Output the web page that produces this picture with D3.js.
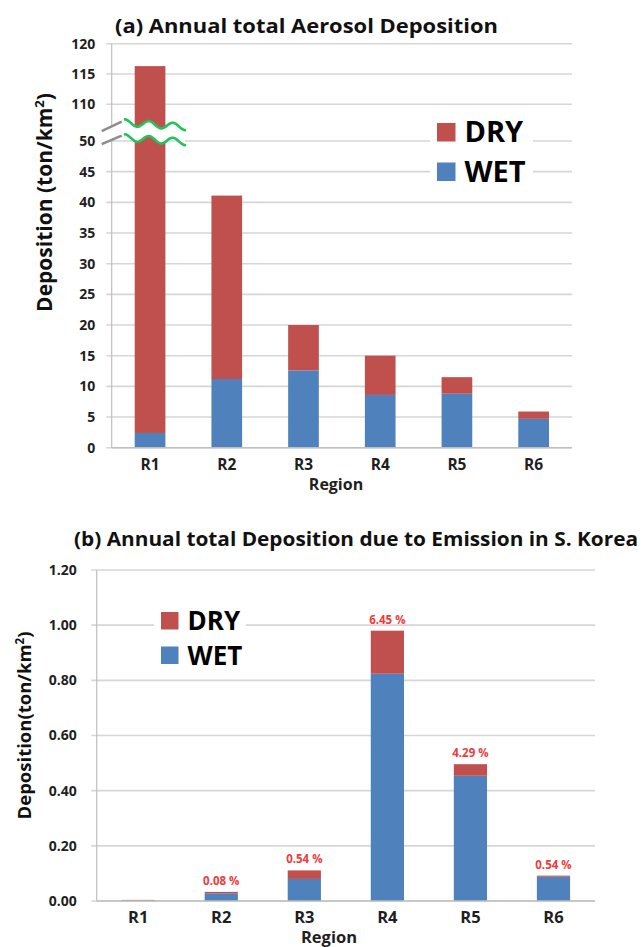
<!DOCTYPE html>
<html>
<head>
<meta charset="utf-8">
<script src="https://cdn.jsdelivr.net/npm/d3@7/dist/d3.min.js"></script>
<style>
  body { margin: 0; background: #fff; }
  svg text { font-family: "Open Sans", "Noto Sans", sans-serif; font-weight: bold; }
</style>
</head>
<body>
<svg id="chart" width="642" height="947"></svg>
<script>
// ---- data ----
const regions = ["R1", "R2", "R3", "R4", "R5", "R6"];

// (a) annual total aerosol deposition, ton/km2
const totalWet = [2.4, 11.2, 12.6, 8.6, 8.8, 4.7];
const totalDry = [113.9, 29.9, 7.4, 6.4, 2.7, 1.2];
const totalTicks = [0, 5, 10, 15, 20, 25, 30, 35, 40, 45, 50, 110, 115, 120];

// (b) deposition due to emission in S. Korea, ton/km2
const koreaWet = [0.001, 0.028, 0.080, 0.824, 0.454, 0.088];
const koreaDry = [0.003, 0.005, 0.031, 0.156, 0.042, 0.004];
const koreaShare = ["", "0.08 %", "0.54 %", "6.45 %", "4.29 %", "0.54 %"];
const koreaTicks = [0, 0.2, 0.4, 0.6, 0.8, 1.0, 1.2];

const seriesKeys = ["WET", "DRY"];
const colors = { DRY: "#C0504D", WET: "#4F81BD" };
const gridColor = "#D6D6D6";
const axisColor = "#BFBFBF";

const svg = d3.select("#chart");

function stackRows(wet, dry) {
  const rows = regions.map((r, i) => ({ region: r, WET: wet[i], DRY: dry[i] }));
  return { rows, layers: d3.stack().keys(seriesKeys)(rows) };
}

function drawPanel(opt) {
  const g = svg.append("g");
  const { rows, layers } = stackRows(opt.wet, opt.dry);
  const x = d3.scaleBand().domain(regions)
    .range([opt.left, opt.right]).paddingInner(0.6).paddingOuter(0.3);
  const y = opt.y;

  // gridlines with short outside ticks
  g.append("g").selectAll("line").data(opt.ticks).join("line")
    .attr("x1", opt.left - 5.5).attr("x2", opt.right)
    .attr("y1", d => y(d)).attr("y2", d => y(d))
    .attr("stroke", gridColor).attr("stroke-width", 1.6);

  // value axis line
  g.append("line")
    .attr("x1", opt.left).attr("x2", opt.left)
    .attr("y1", y(opt.ticks[opt.ticks.length - 1])).attr("y2", y(0))
    .attr("stroke", axisColor).attr("stroke-width", 1.2);

  // stacked bars
  g.append("g").selectAll("g").data(layers).join("g")
    .attr("fill", d => colors[d.key])
    .selectAll("rect").data(d => d).join("rect")
    .attr("x", d => x(d.data.region))
    .attr("width", x.bandwidth())
    .attr("y", d => y(d[1]))
    .attr("height", d => Math.max(0, y(d[0]) - y(d[1])));

  // category axis line
  g.append("line")
    .attr("x1", opt.left).attr("x2", opt.right)
    .attr("y1", y(0)).attr("y2", y(0))
    .attr("stroke", axisColor).attr("stroke-width", 1.6);

  // tick labels (value axis)
  const yAxis = d3.axisLeft(y).tickValues(opt.ticks).tickFormat(opt.fmt)
    .tickSize(0).tickPadding(opt.tickPad);
  const ya = g.append("g").attr("transform", `translate(${opt.left},0)`).call(yAxis);
  ya.select(".domain").remove();
  ya.selectAll("text").attr("font-size", opt.tickFont).attr("fill", "#1f1f1f")
    .style("font-family", "'Open Sans', sans-serif").style("font-weight", "bold");

  // category labels
  const xAxis = d3.axisBottom(x).tickSize(0).tickPadding(opt.catPad);
  const xa = g.append("g").attr("transform", `translate(0,${y(0)})`).call(xAxis);
  xa.select(".domain").remove();
  xa.selectAll("text").attr("font-size", opt.catFont).attr("fill", "#1f1f1f")
    .style("font-family", "'Open Sans', sans-serif").style("font-weight", "bold");

  // axis titles
  g.append("text").attr("x", opt.regionX).attr("y", opt.regionY)
    .attr("text-anchor", "middle").attr("font-size", opt.regionFont)
    .attr("fill", "#1f1f1f").text("Region");

  const yt = g.append("text")
    .attr("transform", `translate(${opt.ytX},${opt.ytY}) rotate(-90)`)
    .attr("text-anchor", "middle").attr("font-size", opt.ytFont).attr("fill", "#111");
  yt.append("tspan").text(opt.ytLabel);
  yt.append("tspan").attr("font-size", opt.ytFont * 0.62).attr("dy", -opt.ytFont * 0.38).text("2");
  yt.append("tspan").attr("dy", opt.ytFont * 0.38).text(")");

  // chart title
  g.append("text").attr("x", opt.titleX).attr("y", opt.titleY)
    .attr("font-size", opt.titleFont).attr("fill", "#111")
    .attr("textLength", opt.titleLen).attr("lengthAdjust", "spacingAndGlyphs")
    .text(opt.title);

  // legend (DRY above WET) on white patch over the gridlines
  const lg = g.append("g");
  lg.append("rect").attr("x", opt.legX - 7).attr("y", opt.legY - 14)
    .attr("width", opt.legW).attr("height", opt.legH).attr("fill", "#fff");
  ["DRY", "WET"].forEach((k, i) => {
    const yy = opt.legY + i * opt.legGap;
    lg.append("rect").attr("x", opt.legX).attr("y", yy)
      .attr("width", opt.legBox).attr("height", opt.legBox).attr("fill", colors[k]);
    lg.append("text").attr("x", opt.legX + opt.legBox + 9).attr("y", yy + opt.legBox + 0.5)
      .attr("font-size", opt.legFont).attr("fill", "#000").text(k);
  });

  return { g, x, y, rows };
}

// ---- panel (a) ----
const aBottom = 447.7, aStep = 30.67, aGap = 36.7, aTop = 43.7;
const yA = d3.scaleLinear()
  .domain([0, 50, 110, 120])
  .range([aBottom, aBottom - 10 * aStep, aBottom - 10 * aStep - aGap, aTop]);

const pa = drawPanel({
  wet: totalWet, dry: totalDry, ticks: totalTicks, y: yA, fmt: d3.format("d"),
  left: 111.7, right: 572, tickPad: 16.5, tickFont: 14, catPad: 11.5, catFont: 15.5,
  regionX: 336, regionY: 490, regionFont: 16,
  ytX: 51.5, ytY: 202.5, ytFont: 21, ytLabel: "Deposition (ton/km",
  titleX: 115, titleY: 33, titleFont: 20, titleLen: 383,
  title: "(a) Annual total Aerosol Deposition",
  legX: 437, legY: 123, legBox: 18.5, legGap: 39.5, legFont: 29, legW: 103, legH: 80
});

// axis break between 50 and 110
(function drawBreak() {
  const g = pa.g.append("g");
  const mid = (yA(50) + yA(110)) / 2;
  const x0 = 125, x1 = 185, period = 24, amp = 3.3, slope = 0.07;
  const wave = off => d3.range(x0, x1 + 0.5, 1).map(px =>
    [px, mid + off + slope * (px - x0) - amp * Math.cos(2 * Math.PI * (px - x0) / period)]);
  const w1 = wave(0), w2 = wave(15);
  g.append("path").attr("d", d3.line()(w1.concat(w2.slice().reverse())) + "Z")
    .attr("fill", "#fff");
  const ax = 111.7;
  g.append("path")
    .attr("d", d3.line()([[ax - 10, mid + 8.5], [ax + 10, mid - 1], [ax + 11.5, mid + 13], [ax - 8.5, mid + 21.5]]) + "Z")
    .attr("fill", "#fff");
  [[mid + 8.5, mid - 1], [mid + 21.5, mid + 13]].forEach(([ya, yb]) => {
    g.append("line").attr("x1", ax - 10).attr("y1", ya).attr("x2", ax + 10).attr("y2", yb)
      .attr("stroke", "#8C8C8C").attr("stroke-width", 2.4);
  });
  [w1, w2].forEach(w => g.append("path").attr("d", d3.line().curve(d3.curveBasis)(w))
    .attr("fill", "none").attr("stroke", "#22C35A").attr("stroke-width", 2.6)
    .attr("stroke-linecap", "round"));
})();

// ---- panel (b) ----
const yB = d3.scaleLinear().domain([0, 1.2]).range([901, 570]);

const pb = drawPanel({
  wet: koreaWet, dry: koreaDry, ticks: koreaTicks, y: yB, fmt: d3.format(".2f"),
  left: 96.7, right: 595, tickPad: 20, tickFont: 14, catPad: 10, catFont: 16.5,
  regionX: 329, regionY: 943, regionFont: 16.5,
  ytX: 31, ytY: 725.5, ytFont: 18.5, ytLabel: "Deposition(ton/km",
  titleX: 74, titleY: 546, titleFont: 19.5, titleLen: 564,
  title: "(b) Annual total Deposition due to Emission in S. Korea",
  legX: 161, legY: 612, legBox: 17.5, legGap: 34.5, legFont: 26, legW: 92, legH: 72
});

// share labels above each bar
pb.g.append("g").selectAll("text").data(pb.rows).join("text")
  .attr("x", d => pb.x(d.region) + pb.x.bandwidth() / 2)
  .attr("y", d => yB(d.WET + d.DRY) - 7)
  .attr("text-anchor", "middle").attr("font-size", 11.5).attr("fill", "#F23A3A")
  .text((d, i) => koreaShare[i]);
</script>
</body>
</html>
